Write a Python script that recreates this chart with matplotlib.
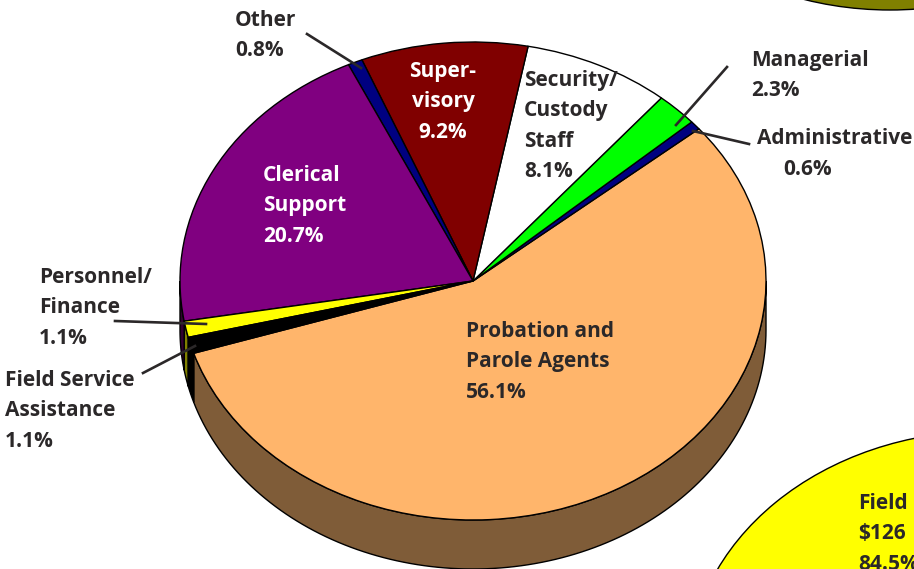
import numpy as np
from matplotlib import pyplot as plt
from matplotlib.patches import Ellipse

categories = ["Probation and Parole Agents", "Administrative", "Managerial",
              "Security/Custody Staff", "Supervisory", "Other", "Clerical Support",
              "Personnel/Finance", "Field Service Assistance"]
shares = [56.1, 0.6, 2.3, 8.1, 9.2, 0.8, 20.7, 1.1, 1.1]
top_colors = ["#ffb56b", "#000080", "#00ff00", "#ffffff", "#800000",
              "#000080", "#800080", "#ffff00", "#000000"]
side_colors = ["#7f5c38", "#000040", "#008000", "#808080", "#400000",
               "#000040", "#300030", "#808000", "#000000"]
start_angle = -162.4
depth = 0.205
ink = "#2b2829"

labels = ["Other\n0.8%", "Super-\nvisory\n9.2%", "Security/\nCustody\nStaff\n8.1%",
          "Managerial\n2.3%", "Administrative", "0.6%", "Clerical\nSupport\n20.7%",
          "Personnel/\nFinance\n1.1%", "Field Service\nAssistance\n1.1%",
          "Probation and\nParole Agents\n56.1%", "Field\n$126\n84.5%"]
label_x = [235, 443, 524, 751, 757, 783, 263, 39, 5, 466, 858]
label_y = [20, 71, 80, 60, 138, 169, 175, 277, 380, 331, 503]
label_ha = ["left", "center", "left", "left", "left", "left", "left", "left", "left", "left", "left"]
label_color = [ink, "white", ink, ink, ink, ink, "white", ink, ink, ink, ink]

leaders = [((307, 34), (361, 68)), ((727, 67), (676, 125)), ((749, 144), (693, 131)),
           ((115, 321), (206, 324)), ((143, 373), (195, 346))]

fig = plt.figure(figsize=(9.14, 5.69), dpi=100)
ax = fig.add_axes([0, 0, 1, 1])
ax.pie(shares, colors=top_colors, startangle=start_angle, counterclock=True, radius=1,
       wedgeprops={"edgecolor": "black", "linewidth": 1.0, "zorder": 3})
ax.set_aspect("auto")
ax.set_xlim(-473 / 293, (914 - 473) / 293)
ax.set_ylim((281 - 569) / 239, 281 / 239)
ax.axis("off")

# pie side, only the front half of the rim shows
edges = start_angle + np.concatenate([[0], np.cumsum(shares)]) * 3.6
for i in range(len(shares)):
    a, b = edges[i], edges[i + 1]
    if a >= 180:
        a, b = a - 360, b - 360
    a, b = max(a, -180), min(b, 0)
    if a >= b:
        continue
    t = np.radians(np.linspace(a, b, 120))
    xs = np.concatenate([np.cos(t), np.cos(t[::-1])])
    ys = np.concatenate([np.sin(t), np.sin(t[::-1]) - depth])
    ax.fill(xs, ys, facecolor=side_colors[i], edgecolor="black", linewidth=1.0, zorder=2)
t = np.radians(np.linspace(-180, edges[7] - 360, 40))
ax.fill(np.concatenate([np.cos(t), np.cos(t[::-1])]),
        np.concatenate([np.sin(t), np.sin(t[::-1]) - depth]),
        facecolor=side_colors[6], edgecolor="black", linewidth=1.0, zorder=2)

# overlay in picture pixels for the neighbouring pies, labels and leaders
over = fig.add_axes([0, 0, 1, 1], facecolor="none")
over.set_xlim(0, 914)
over.set_ylim(569, 0)
over.axis("off")
over.add_patch(Ellipse((890, -230), 586, 480, facecolor="#808000", edgecolor="black", linewidth=1.0))
over.add_patch(Ellipse((987, 675), 598, 488, facecolor="#ffff00", edgecolor="black", linewidth=1.0))

for (p, q) in leaders:
    over.plot([p[0], q[0]], [p[1], q[1]], color=ink, linewidth=1.9, zorder=5)

for text, x, y, c, ha in zip(labels, label_x, label_y, label_color, label_ha):
    for i, line in enumerate(text.split("\n")):
        over.text(x, y + i * 30.5, line, color=c, fontsize=15, family="Open Sans",
                  fontweight="bold", ha=ha, va="center", zorder=6)

fig.savefig("out.png", dpi=100)
